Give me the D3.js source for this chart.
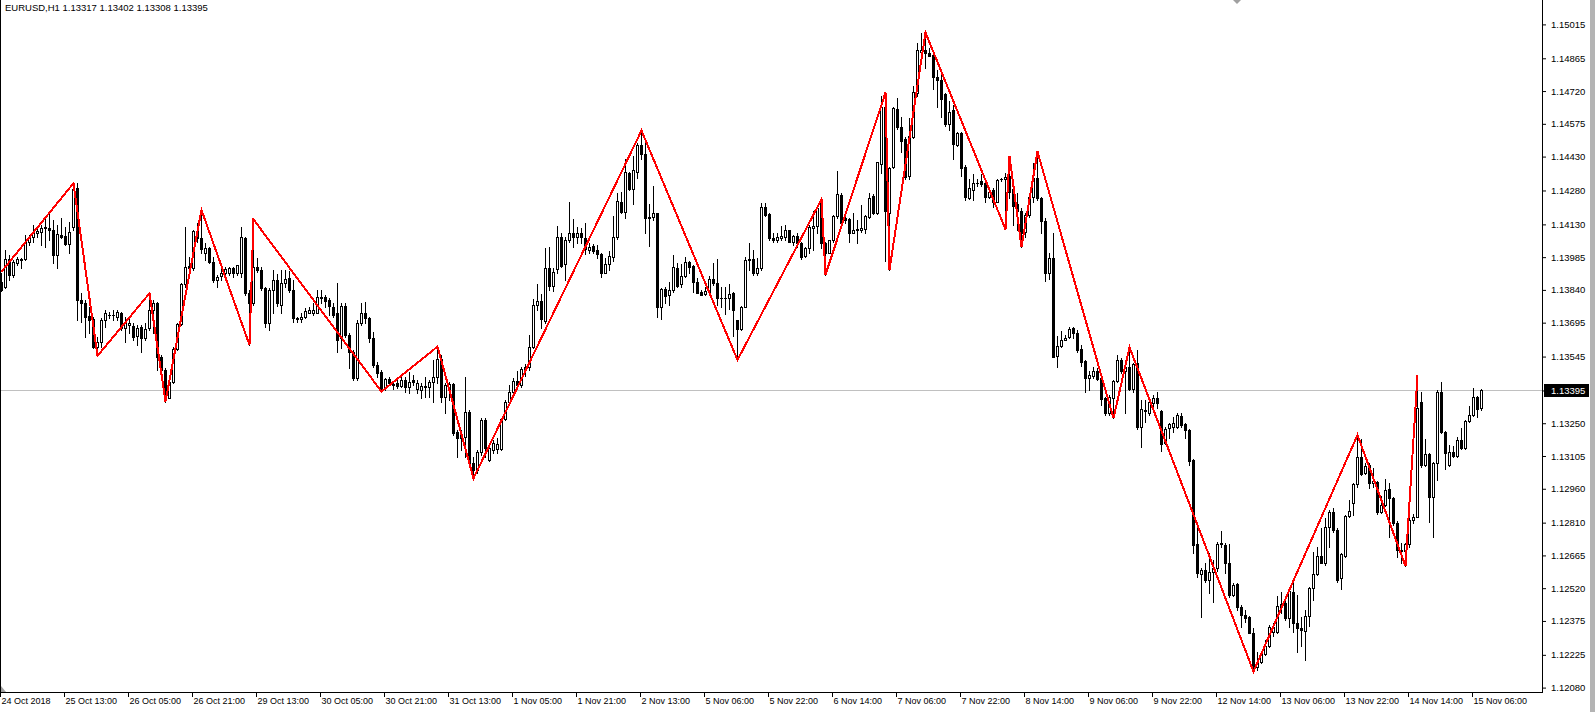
<!DOCTYPE html>
<meta charset="utf-8">
<style>
body {
  margin: 0;
  background: #fff;
}
svg {
  display: block;
  font-family: "Liberation Sans", Arial, sans-serif;
}
</style>
<body>
<svg width="1595" height="712"></svg>
<script src="https://d3js.org/d3.v7.min.js"></script>
<script>
var title = "EURUSD,H1  1.13317 1.13402 1.13308 1.13395";
var lastPrice = 1.13395;

var timeLabels = ["24 Oct 2018", "25 Oct 13:00", "26 Oct 05:00", "26 Oct 21:00", "29 Oct 13:00", "30 Oct 05:00",
  "30 Oct 21:00", "31 Oct 13:00", "1 Nov 05:00", "1 Nov 21:00", "2 Nov 13:00", "5 Nov 06:00", "5 Nov 22:00",
  "6 Nov 14:00", "7 Nov 06:00", "7 Nov 22:00", "8 Nov 14:00", "9 Nov 06:00", "9 Nov 22:00", "12 Nov 14:00",
  "13 Nov 06:00", "13 Nov 22:00", "14 Nov 14:00", "15 Nov 06:00"];
var barsPerLabel = 16;

var priceLabels = ["1.15015", "1.14865", "1.14720", "1.14575", "1.14430", "1.14280", "1.14130", "1.13985",
  "1.13840", "1.13695", "1.13545", "1.13395", "1.13250", "1.13105", "1.12960", "1.12810", "1.12665",
  "1.12520", "1.12375", "1.12225", "1.12080"];

// H1 bars, oldest first, ten per line
var open = [
1.13877,1.13855,1.13975,1.13906,1.13961,1.13972,1.13975,1.14054,1.14076,1.14091,
1.14098,1.14113,1.14113,1.14105,1.13995,1.14083,1.14079,1.14042,1.14120,1.14290,
1.13796,1.13784,1.13725,1.13710,1.13589,1.13611,1.13707,1.13729,1.13728,1.13722,
1.13739,1.13670,1.13685,1.13680,1.13638,1.13677,1.13626,1.13670,1.13751,1.13781,
1.13545,1.13486,1.13360,1.13434,1.13577,1.13689,1.13866,1.13946,1.13936,1.14101,
1.14068,1.14002,1.14024,1.13965,1.13884,1.13902,1.13914,1.13914,1.13936,1.13914,
1.13914,1.14068,1.13825,1.13781,1.13943,1.13928,1.13847,1.13692,1.13840,1.13884,
1.13773,1.13869,1.13891,1.13840,1.13714,1.13710,1.13721,1.13739,1.13739,1.13736,
1.13810,1.13810,1.13795,1.13766,1.13736,1.13626,1.13770,1.13640,1.13567,1.13449,
1.13692,1.13736,1.13717,1.13626,1.13508,1.13478,1.13404,1.13444,1.13422,1.13426,
1.13415,1.13441,1.13409,1.13441,1.13400,1.13397,1.13415,1.13409,1.13434,1.13456,
1.13533,1.13365,1.13400,1.13424,1.13213,1.13198,1.13191,1.13301,1.13073,1.13043,
1.13124,1.13264,1.13087,1.13131,1.13134,1.13134,1.13267,1.13345,1.13390,1.13435,
1.13420,1.13490,1.13500,1.13589,1.13773,1.13791,1.13704,1.13935,1.13859,1.13931,
1.14073,1.13953,1.14061,1.14093,1.14073,1.14090,1.14068,1.14017,1.14034,1.14017,
1.13999,1.13916,1.13955,1.13987,1.14076,1.14230,1.14186,1.14359,1.14286,1.14363,
1.14481,1.14440,1.14157,1.14161,1.14179,1.13763,1.13842,1.13816,1.13839,1.13935,
1.13865,1.13901,1.13965,1.13946,1.13876,1.13832,1.13820,1.13832,1.13887,1.13869,
1.13803,1.13803,1.13803,1.13825,1.13707,1.13665,1.13766,1.13972,1.13975,1.13913,
1.13936,1.14206,1.14177,1.14069,1.14059,1.14069,1.14073,1.14103,1.14054,1.14079,
1.14047,1.13988,1.14025,1.14113,1.14121,1.14230,1.14047,1.14005,1.14059,1.14165,
1.14261,1.14157,1.14154,1.14094,1.14109,1.14106,1.14109,1.14162,1.14256,1.14180,
1.14398,1.14649,1.14182,1.14383,1.14640,1.14560,1.14507,1.14342,1.14516,1.14713,
1.14895,1.14902,1.14890,1.14880,1.14781,1.14770,1.14708,1.14575,1.14637,1.14482,
1.14534,1.14386,1.14246,1.14283,1.14315,1.14320,1.14312,1.14253,1.14280,1.14231,
1.14330,1.14330,1.14342,1.14285,1.14221,1.14191,1.14098,1.14172,1.14253,1.14334,
1.14246,1.14147,1.13914,1.13980,1.13548,1.13592,1.13619,1.13631,1.13670,1.13651,
1.13577,1.13527,1.13449,1.13459,1.13483,1.13449,1.13361,1.13294,1.13361,1.13439,
1.13530,1.13479,1.13501,1.13400,1.13516,1.13235,1.13309,1.13297,1.13341,1.13360,
1.13304,1.13161,1.13228,1.13235,1.13232,1.13282,1.13247,1.13220,1.13088,1.12716,
1.12583,1.12601,1.12556,1.12593,1.12608,1.12716,1.12711,1.12633,1.12490,1.12539,
1.12438,1.12402,1.12391,1.12323,1.12173,1.12195,1.12229,1.12262,1.12328,1.12328,
1.12438,1.12456,1.12387,1.12505,1.12365,1.12342,1.12332,1.12397,1.12519,1.12583,
1.12663,1.12633,1.12792,1.12859,1.12778,1.12564,1.12663,1.12839,1.12896,1.12981,
1.13099,1.13031,1.13065,1.12984,1.12991,1.12859,1.12888,1.12957,1.12918,1.12810,
1.12689,1.12686,1.12716,1.12822,1.12836,1.13345,1.13065,1.13114,1.12922,1.13075,
1.13390,1.13213,1.13065,1.13124,1.13105,1.13176,1.13139,1.13261,1.13286,1.13365,
1.13317];

var high = [
1.13914,1.14017,1.13995,1.13972,1.13987,1.13980,1.14083,1.14083,1.14127,1.14120,
1.14127,1.14157,1.14179,1.14150,1.14127,1.14157,1.14120,1.14142,1.14312,1.14312,
1.13825,1.13796,1.13766,1.13722,1.13633,1.13714,1.13751,1.13744,1.13751,1.13751,
1.13744,1.13722,1.13714,1.13692,1.13685,1.13685,1.13692,1.13825,1.13796,1.13788,
1.13552,1.13493,1.13441,1.13589,1.13692,1.13869,1.14120,1.13987,1.14105,1.14135,
1.14194,1.14046,1.14031,1.13987,1.13906,1.13958,1.13943,1.13943,1.13943,1.13950,
1.14120,1.14076,1.13840,1.14152,1.13980,1.13943,1.13855,1.13847,1.13928,1.13910,
1.13928,1.13928,1.13925,1.13884,1.13721,1.13736,1.13758,1.13766,1.13781,1.13840,
1.13840,1.13817,1.13803,1.13781,1.13869,1.13781,1.13781,1.13648,1.13574,1.13707,
1.13781,1.13788,1.13721,1.13655,1.13522,1.13485,1.13449,1.13456,1.13434,1.13441,
1.13463,1.13456,1.13478,1.13463,1.13441,1.13426,1.13456,1.13441,1.13530,1.13589,
1.13552,1.13426,1.13434,1.13426,1.13220,1.13220,1.13456,1.13308,1.13102,1.13131,
1.13272,1.13272,1.13154,1.13176,1.13183,1.13272,1.13353,1.13419,1.13450,1.13480,
1.13500,1.13512,1.13640,1.13798,1.13866,1.13822,1.14024,1.14031,1.13935,1.14123,
1.14093,1.14076,1.14227,1.14152,1.14120,1.14112,1.14135,1.14046,1.14043,1.14039,
1.14002,1.13980,1.14014,1.14167,1.14267,1.14275,1.14418,1.14363,1.14432,1.14489,
1.14545,1.14489,1.14220,1.14300,1.14182,1.13847,1.13854,1.13876,1.13994,1.13958,
1.13955,1.13987,1.13969,1.13950,1.13891,1.13839,1.13854,1.13901,1.13958,1.13977,
1.13854,1.13854,1.13866,1.13832,1.13707,1.13769,1.13987,1.14046,1.14017,1.13980,
1.14224,1.14224,1.14180,1.14091,1.14091,1.14121,1.14128,1.14106,1.14084,1.14091,
1.14054,1.14032,1.14128,1.14187,1.14216,1.14241,1.14054,1.14062,1.14172,1.14368,
1.14268,1.14182,1.14157,1.14180,1.14150,1.14216,1.14172,1.14271,1.14265,1.14408,
1.14699,1.14713,1.14386,1.14649,1.14688,1.14604,1.14516,1.14600,1.14743,1.14932,
1.14976,1.14979,1.14910,1.14895,1.14814,1.14792,1.14711,1.14674,1.14659,1.14541,
1.14541,1.14393,1.14330,1.14353,1.14330,1.14353,1.14327,1.14283,1.14290,1.14330,
1.14334,1.14356,1.14433,1.14297,1.14268,1.14201,1.14179,1.14260,1.14401,1.14452,
1.14253,1.14157,1.14002,1.14091,1.13634,1.13656,1.13641,1.13678,1.13678,1.13663,
1.13597,1.13530,1.13479,1.13501,1.13493,1.13457,1.13368,1.13375,1.13442,1.13552,
1.13538,1.13530,1.13586,1.13518,1.13572,1.13353,1.13353,1.13360,1.13375,1.13390,
1.13309,1.13232,1.13250,1.13279,1.13294,1.13294,1.13250,1.13223,1.13090,1.12807,
1.12608,1.12633,1.12675,1.12645,1.12726,1.12775,1.12719,1.12716,1.12545,1.12542,
1.12446,1.12424,1.12397,1.12343,1.12239,1.12239,1.12291,1.12357,1.12365,1.12485,
1.12505,1.12475,1.12512,1.12564,1.12490,1.12394,1.12424,1.12527,1.12682,1.12701,
1.12785,1.12829,1.12866,1.12873,1.12785,1.12677,1.12844,1.12910,1.12987,1.13198,
1.13179,1.13073,1.13073,1.13050,1.12996,1.12928,1.13002,1.12984,1.12925,1.12819,
1.12719,1.12721,1.12836,1.12850,1.13463,1.13390,1.13179,1.13120,1.13080,1.13397,
1.13434,1.13217,1.13154,1.13149,1.13191,1.13227,1.13264,1.13326,1.13404,1.13370,
1.13402];

var low = [
1.13833,1.13847,1.13884,1.13899,1.13950,1.13936,1.13972,1.14039,1.14054,1.14076,
1.14039,1.14031,1.14061,1.13958,1.13936,1.14068,1.14039,1.14002,1.14105,1.13707,
1.13700,1.13633,1.13648,1.13582,1.13548,1.13589,1.13677,1.13714,1.13707,1.13707,
1.13663,1.13611,1.13648,1.13619,1.13596,1.13567,1.13619,1.13663,1.13648,1.13486,
1.13441,1.13346,1.13360,1.13427,1.13574,1.13685,1.13855,1.13914,1.13928,1.14054,
1.14002,1.13972,1.13958,1.13877,1.13855,1.13884,1.13899,1.13906,1.13899,1.13906,
1.13899,1.13818,1.13596,1.13774,1.13921,1.13840,1.13677,1.13662,1.13736,1.13770,
1.13736,1.13855,1.13832,1.13699,1.13699,1.13699,1.13714,1.13736,1.13729,1.13736,
1.13781,1.13766,1.13729,1.13721,1.13567,1.13581,1.13633,1.13493,1.13441,1.13441,
1.13685,1.13692,1.13611,1.13500,1.13456,1.13390,1.13397,1.13419,1.13400,1.13404,
1.13412,1.13390,1.13385,1.13419,1.13382,1.13360,1.13368,1.13368,1.13345,1.13426,
1.13345,1.13294,1.13353,1.13198,1.13102,1.13131,1.13102,1.13058,1.13006,1.13028,
1.13109,1.13102,1.13084,1.13117,1.13117,1.13131,1.13264,1.13338,1.13370,1.13400,
1.13410,1.13460,1.13486,1.13581,1.13751,1.13670,1.13692,1.13839,1.13836,1.13916,
1.13943,1.13884,1.14053,1.14031,1.14046,1.14049,1.13999,1.14002,1.14002,1.13980,
1.13898,1.13913,1.13928,1.13969,1.14064,1.14182,1.14157,1.14282,1.14220,1.14334,
1.14418,1.14093,1.14034,1.14149,1.13722,1.13710,1.13781,1.13773,1.13832,1.13854,
1.13854,1.13898,1.13916,1.13832,1.13825,1.13817,1.13816,1.13828,1.13862,1.13773,
1.13766,1.13733,1.13754,1.13636,1.13530,1.13663,1.13763,1.13928,1.13906,1.13906,
1.13929,1.14165,1.14062,1.14050,1.14054,1.14062,1.14062,1.14050,1.14039,1.14032,
1.13976,1.13985,1.14003,1.14017,1.14091,1.14025,1.13907,1.14003,1.14054,1.14157,
1.14113,1.14135,1.14050,1.14091,1.14047,1.14098,1.14094,1.14157,1.14177,1.14177,
1.14356,1.13970,1.13929,1.14379,1.14551,1.14452,1.14330,1.14330,1.14511,1.14696,
1.14865,1.14821,1.14873,1.14728,1.14651,1.14607,1.14566,1.14548,1.14418,1.14477,
1.14342,1.14238,1.14241,1.14238,1.14300,1.14298,1.14231,1.14246,1.14209,1.14227,
1.14320,1.14108,1.14246,1.14128,1.14106,1.14029,1.14076,1.14164,1.14227,1.14238,
1.14094,1.13881,1.13887,1.13541,1.13501,1.13586,1.13619,1.13626,1.13626,1.13563,
1.13504,1.13390,1.13397,1.13449,1.13442,1.13331,1.13287,1.13287,1.13272,1.13434,
1.13471,1.13294,1.13397,1.13390,1.13223,1.13146,1.13257,1.13287,1.13320,1.13316,
1.13129,1.13158,1.13183,1.13213,1.13228,1.13235,1.13183,1.13065,1.12675,1.12571,
1.12391,1.12549,1.12500,1.12461,1.12598,1.12704,1.12589,1.12483,1.12486,1.12424,
1.12347,1.12372,1.12321,1.12151,1.12158,1.12188,1.12224,1.12258,1.12309,1.12323,
1.12409,1.12379,1.12350,1.12328,1.12239,1.12264,1.12202,1.12353,1.12468,1.12578,
1.12630,1.12623,1.12704,1.12770,1.12549,1.12515,1.12660,1.12836,1.12844,1.12969,
1.13021,1.13025,1.12962,1.12969,1.12848,1.12851,1.12884,1.12748,1.12800,1.12660,
1.12630,1.12618,1.12704,1.12810,1.12834,1.13058,1.13061,1.12814,1.12748,1.12999,
1.13208,1.13046,1.13061,1.13102,1.13102,1.13134,1.13134,1.13257,1.13282,1.13279,
1.13308];

var close = [
1.13840,1.13975,1.13906,1.13965,1.13975,1.13975,1.14051,1.14076,1.14093,1.14101,
1.14113,1.14120,1.14105,1.13995,1.14088,1.14076,1.14042,1.14098,1.14285,1.13796,
1.13781,1.13722,1.13707,1.13589,1.13611,1.13707,1.13736,1.13728,1.13727,1.13744,
1.13670,1.13695,1.13692,1.13633,1.13670,1.13626,1.13666,1.13751,1.13781,1.13545,
1.13486,1.13368,1.13434,1.13577,1.13689,1.13866,1.13943,1.13936,1.14101,1.14068,
1.14020,1.14024,1.13965,1.13884,1.13899,1.13914,1.13931,1.13936,1.13914,1.13949,
1.14073,1.13825,1.13781,1.13943,1.13928,1.13847,1.13692,1.13840,1.13884,1.13781,
1.13869,1.13887,1.13840,1.13714,1.13710,1.13721,1.13748,1.13751,1.13751,1.13810,
1.13806,1.13792,1.13769,1.13729,1.13618,1.13770,1.13640,1.13567,1.13449,1.13692,
1.13736,1.13714,1.13626,1.13508,1.13471,1.13397,1.13444,1.13426,1.13419,1.13415,
1.13441,1.13409,1.13434,1.13431,1.13429,1.13415,1.13410,1.13431,1.13456,1.13533,
1.13365,1.13419,1.13424,1.13205,1.13183,1.13183,1.13301,1.13073,1.13043,1.13124,
1.13264,1.13139,1.13139,1.13161,1.13158,1.13267,1.13345,1.13390,1.13435,1.13420,
1.13490,1.13500,1.13589,1.13773,1.13791,1.13710,1.13935,1.13859,1.13921,1.14073,
1.13947,1.14061,1.14093,1.14073,1.14090,1.14076,1.14020,1.14028,1.14014,1.13999,
1.13916,1.13955,1.13990,1.14076,1.14233,1.14186,1.14360,1.14286,1.14371,1.14481,
1.14440,1.14157,1.14164,1.14179,1.13763,1.13842,1.13813,1.13838,1.13940,1.13859,
1.13901,1.13962,1.13943,1.13876,1.13828,1.13817,1.13835,1.13887,1.13869,1.13803,
1.13803,1.13803,1.13822,1.13751,1.13665,1.13766,1.13972,1.13975,1.13913,1.13935,
1.14206,1.14172,1.14069,1.14059,1.14073,1.14079,1.14103,1.14054,1.14079,1.14047,
1.13985,1.14025,1.14118,1.14124,1.14202,1.14047,1.14005,1.14059,1.14168,1.14265,
1.14135,1.14150,1.14094,1.14106,1.14103,1.14113,1.14168,1.14246,1.14182,1.14404,
1.14649,1.14187,1.14379,1.14644,1.14560,1.14501,1.14339,1.14522,1.14718,1.14902,
1.14902,1.14888,1.14876,1.14781,1.14770,1.14684,1.14575,1.14629,1.14486,1.14534,
1.14379,1.14250,1.14290,1.14315,1.14315,1.14309,1.14253,1.14275,1.14231,1.14327,
1.14330,1.14341,1.14275,1.14212,1.14187,1.14094,1.14172,1.14253,1.14334,1.14246,
1.14147,1.13914,1.13980,1.13545,1.13592,1.13619,1.13626,1.13666,1.13648,1.13575,
1.13523,1.13449,1.13464,1.13483,1.13445,1.13356,1.13294,1.13368,1.13439,1.13530,
1.13479,1.13501,1.13400,1.13513,1.13235,1.13312,1.13304,1.13346,1.13360,1.13341,
1.13158,1.13223,1.13247,1.13253,1.13287,1.13242,1.13220,1.13085,1.12711,1.12586,
1.12601,1.12556,1.12593,1.12608,1.12716,1.12719,1.12633,1.12490,1.12534,1.12438,
1.12402,1.12387,1.12323,1.12166,1.12191,1.12229,1.12264,1.12350,1.12347,1.12441,
1.12450,1.12387,1.12509,1.12365,1.12342,1.12335,1.12398,1.12519,1.12583,1.12663,
1.12633,1.12789,1.12859,1.12778,1.12556,1.12671,1.12839,1.12862,1.12981,1.13099,
1.13025,1.13061,1.12984,1.12994,1.12859,1.12888,1.12955,1.12918,1.12810,1.12689,
1.12686,1.12716,1.12822,1.12836,1.13316,1.13065,1.13114,1.12922,1.13075,1.13390,
1.13213,1.13117,1.13124,1.13105,1.13176,1.13139,1.13261,1.13286,1.13365,1.13311,
1.13395];

// ZigZag turning points: bar index and price
var zzBar = [0, 18, 24, 37, 41, 50, 62, 63, 95, 109, 118, 160, 184, 205, 206, 221, 222, 231,
  251, 252, 255, 259, 278, 282, 313, 339, 351, 354];
var zzPrice = [1.13921, 1.14312, 1.13548, 1.13825, 1.13346, 1.14194, 1.13596, 1.14152, 1.13390,
  1.13589, 1.13006, 1.14545, 1.13530, 1.14241, 1.13907, 1.14713, 1.13929, 1.14979, 1.14108,
  1.14433, 1.14029, 1.14452, 1.13272, 1.13586, 1.12151, 1.13198, 1.12618, 1.13463];

var svg = d3.select("svg"),
    axisX = 1542,
    axisY = 692;

var n = close.length;
var x = d3.scaleLinear().domain([0, n - 1]).range([0, 4 * (n - 1)]);
var y = d3.scaleLinear().domain([1.12080, 1.15015]).range([687.6, 24.4]);
function py(v) { return Math.round(y(v)); }

var bars = d3.range(n).map(function(i) {
  return {i: i, o: open[i], h: high[i], l: low[i], c: close[i]};
});

var plot = svg.append("g").attr("shape-rendering", "crispEdges");

// last price line
plot.append("rect")
    .attr("x", 0).attr("width", axisX)
    .attr("y", py(lastPrice)).attr("height", 1)
    .attr("fill", "#c0c0c0");

var candle = plot.selectAll(".candle")
  .data(bars)
  .enter().append("g")
    .attr("class", "candle");

candle.append("rect")
    .attr("x", function(d) { return x(d.i) + 1; })
    .attr("width", 1)
    .attr("y", function(d) { return py(d.h); })
    .attr("height", function(d) { return py(d.l) - py(d.h) + 1; })
    .attr("fill", "#000");

candle.each(function(d) {
  var sel = d3.select(this),
      top = py(Math.max(d.o, d.c)),
      bot = py(Math.min(d.o, d.c));
  if (d.c > d.o && bot - top >= 2) {
    sel.append("rect")
        .attr("x", x(d.i) + 0.5).attr("y", top + 0.5)
        .attr("width", 2).attr("height", bot - top)
        .attr("fill", "#fff").attr("stroke", "#000");
  } else {
    sel.append("rect")
        .attr("x", x(d.i)).attr("y", top)
        .attr("width", 3).attr("height", bot - top + 1)
        .attr("fill", "#000");
  }
});

// zigzag
var zz = zzBar.map(function(b, k) { return {i: b, p: zzPrice[k]}; });
svg.append("path")
    .datum(zz)
    .attr("fill", "none")
    .attr("stroke", "#ff0000")
    .attr("stroke-width", 2)
    .attr("shape-rendering", "crispEdges")
    .attr("d", d3.line()
        .x(function(d) { return x(d.i) + 1.5; })
        .y(function(d) { return y(d.p); }));

// frame
var frame = svg.append("g").attr("shape-rendering", "crispEdges").attr("stroke", "#000");
frame.append("line").attr("x1", 0.5).attr("x2", 0.5).attr("y1", 0).attr("y2", axisY);
frame.append("line").attr("x1", axisX + 0.5).attr("x2", axisX + 0.5).attr("y1", 0).attr("y2", axisY + 1);
frame.append("line").attr("x1", 0).attr("x2", axisX).attr("y1", axisY + 0.5).attr("y2", axisY + 0.5);

svg.append("rect")
    .attr("x", 1590).attr("y", 0).attr("width", 5).attr("height", 712)
    .attr("fill", "#b4b4b4");

svg.append("path")
    .attr("d", "M1233,0L1241,0L1237,4Z")
    .attr("fill", "#a0a0a0");
svg.append("path")
    .attr("d", "M1,686L1,692L6,692Z")
    .attr("fill", "#a0a0a0");

// price axis
svg.append("g")
    .attr("transform", "translate(" + axisX + ",0)")
    .call(d3.axisRight(y)
        .tickValues(priceLabels.map(Number))
        .tickFormat(function(d, k) { return priceLabels[k]; })
        .tickSize(4)
        .tickPadding(5)
        .tickSizeOuter(0))
    .call(function(g) { g.select(".domain").remove(); })
    .attr("font-family", null)
    .attr("font-size", "9.5px");

var ly = py(lastPrice);
svg.append("rect")
    .attr("x", axisX + 2).attr("y", ly - 6)
    .attr("width", 45).attr("height", 13)
    .attr("fill", "#000");
svg.append("text")
    .attr("x", axisX + 9).attr("y", ly + 0.5)
    .attr("dy", "0.35em")
    .attr("fill", "#fff")
    .style("font-size", "9.5px")
    .text(lastPrice.toFixed(5));

// time axis
svg.append("g")
    .attr("transform", "translate(0," + axisY + ")")
    .call(d3.axisBottom(x)
        .tickValues(timeLabels.map(function(t, k) { return k * barsPerLabel; }))
        .tickFormat(function(d, k) { return timeLabels[k]; })
        .tickSize(5)
        .tickPadding(1)
        .tickSizeOuter(0))
    .call(function(g) { g.select(".domain").remove(); })
    .call(function(g) { g.selectAll("text").attr("x", 1).attr("text-anchor", "start"); })
    .attr("font-family", null)
    .attr("font-size", "9px");

svg.append("text")
    .attr("x", 5)
    .attr("y", 11)
    .style("font-size", "9.5px")
    .text(title);
</script>
</body>
